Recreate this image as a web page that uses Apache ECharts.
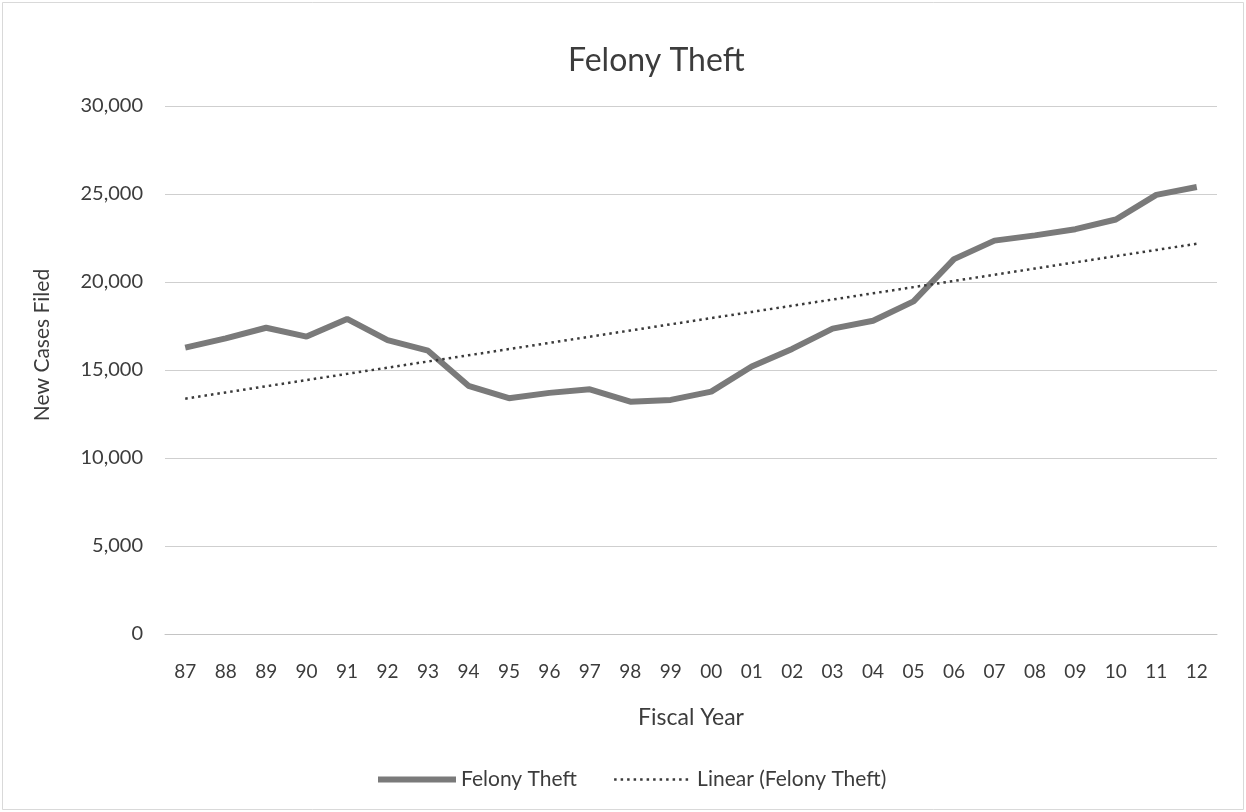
<!DOCTYPE html>
<html lang="en">
<head>
    <meta charset="UTF-8">
    <title>Felony Theft</title>
    <style>
        html, body { margin: 0; padding: 0; background: #fff; }
        #chart { width: 1246px; height: 812px; }
    </style>
</head>
<body>
    <div id="chart"></div>
    <script src="https://cdn.jsdelivr.net/npm/echarts@6/dist/echarts.min.js"></script>
    <script>
    // fiscal years (two digits, as on the axis)
    var years = ['87','88','89','90','91','92','93','94','95','96','97','98','99',
                 '00','01','02','03','04','05','06','07','08','09','10','11','12'];
    // new felony theft cases filed
    var cases = [16270, 16800, 17400, 16900, 17900, 16700, 16100, 14100, 13400, 13700,
                 13900, 13200, 13300, 13770, 15200, 16200, 17350, 17800, 18900, 21300,
                 22350, 22650, 23000, 23550, 24950, 25400];
    var yTicks = [0, 5000, 10000, 15000, 20000, 25000, 30000];

    // least squares trend line, like the "Linear" trendline in the sheet
    function linearFit(vals) {
        var n = vals.length, sx = 0, sy = 0, sxy = 0, sxx = 0;
        for (var i = 0; i < n; i++) {
            sx += i; sy += vals[i]; sxy += i * vals[i]; sxx += i * i;
        }
        var b = (n * sxy - sx * sy) / (n * sxx - sx * sx);
        var a = (sy - b * sx) / n;
        return vals.map(function (v, i) { return +(a + b * i).toFixed(1); });
    }
    var trend = linearFit(cases);

    var font = 'Lato, "Open Sans", sans-serif';
    var txt = '#3c3c3c';
    var mainColor = '#7a7a7a';
    var trendColor = '#3a3a3a';

    var chart = echarts.init(document.getElementById('chart'));
    chart.setOption({
        animation: false,
        backgroundColor: '#fff',
        title: {
            text: 'Felony Theft',
            left: 563,
            top: 40,
            textStyle: { fontFamily: font, fontSize: 32, fontWeight: 'normal', color: txt }
        },
        grid: { left: 165, right: 29, top: 106, bottom: 178, containLabel: false },
        legend: {
            left: 370,
            top: 764,
            itemWidth: 78,
            itemHeight: 14,
            itemGap: 36,
            textStyle: { fontFamily: font, fontSize: 21, color: txt },
            data: [
                {
                    name: 'Felony Theft',
                    itemStyle: { opacity: 0 },
                    lineStyle: { color: mainColor, width: 6 }
                },
                {
                    name: 'Linear (Felony Theft)',
                    itemStyle: { opacity: 0 },
                    lineStyle: { color: trendColor, width: 2.5, type: [2.5, 4] }
                }
            ]
        },
        xAxis: {
            type: 'category',
            data: years,
            boundaryGap: true,
            name: 'Fiscal Year',
            nameLocation: 'middle',
            nameGap: 72,
            nameTextStyle: { fontFamily: font, fontSize: 23, color: txt },
            axisLine: { lineStyle: { color: '#c4c4c4' } },
            axisTick: { show: false },
            axisLabel: { fontFamily: font, fontSize: 19, color: txt, margin: 28, interval: 0 }
        },
        yAxis: {
            type: 'value',
            min: yTicks[0],
            max: yTicks[yTicks.length - 1],
            interval: yTicks[1] - yTicks[0],
            axisLine: { show: false },
            axisTick: { show: false },
            axisLabel: {
                fontFamily: font, fontSize: 20, color: txt, margin: 22,
                formatter: function (v) { return v.toLocaleString('en-US'); }
            },
            splitLine: { lineStyle: { color: '#cfcfcf', width: 1 } }
        },
        graphic: [
            {
                type: 'text',
                x: 42, y: 345,
                rotation: Math.PI / 2,
                style: {
                    text: 'New Cases Filed',
                    fontFamily: font, fontSize: 21, fill: txt,
                    align: 'center', verticalAlign: 'middle'
                }
            },
            {
                type: 'rect',
                shape: { x: 2.5, y: 2.5, width: 1241, height: 807 },
                style: { fill: 'none', stroke: '#d9d9d9', lineWidth: 1 }
            }
        ],
        series: [
            {
                name: 'Felony Theft',
                type: 'line',
                data: cases,
                symbol: 'none',
                lineStyle: { color: mainColor, width: 6 },
                itemStyle: { color: mainColor },
                z: 3
            },
            {
                name: 'Linear (Felony Theft)',
                type: 'line',
                data: trend,
                symbol: 'none',
                lineStyle: { color: trendColor, width: 2.5, type: [2.5, 4] },
                itemStyle: { color: trendColor },
                z: 4
            }
        ]
    });
    </script>
</body>
</html>
